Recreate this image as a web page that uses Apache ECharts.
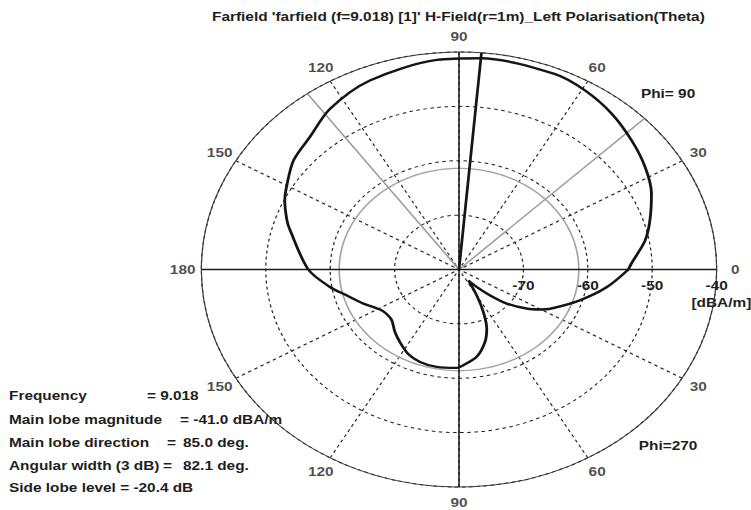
<!DOCTYPE html>
<html><head><meta charset="utf-8">
<script src="https://cdn.jsdelivr.net/npm/echarts@6/dist/echarts.min.js"></script>
<style>
html,body{margin:0;padding:0;background:#fff;overflow:hidden;}
#chart{width:634px;height:510px;transform:scaleX(1.1845);transform-origin:0 0;}
</style></head><body><div id="chart"></div>
<script>
// ---- values ----
const frequency = '9.018';
const mainLobeMagnitude = -41.0;   // dBA/m
const mainLobeDirection = 85.0;    // deg
const angularWidth3dB = 82.1;      // deg
const sideLobeLevel = -20.4;       // dB

const patternAngle = [0, 2.4, 10.5, 17, 25.1, 33.1, 41.5, 50.4, 59.3, 67.6, 85, 95.1, 111.7, 124.1, 133.6, 142, 150.4, 154.8, 161.3, 164.6, 180, 189.1, 195.2, 199.6, 202.9, 211, 215.8, 221.8, 229.1, 235.5, 242.9, 250.4, 259.1, 268.9, 272.2, 279.7, 286.9, 291.6, 295.8, 300, 306, 310.5, 315.4, 319.8, 325.6, 329.8, 333, 343.2, 352, 360];
const patternDb = [-53.7, -53.2, -50.6, -49.0, -47.0, -45.5, -44.2, -42.8, -41.7, -41.1, -41.0, -41.3, -42.6, -44.3, -46.4, -47.4, -49.2, -50.1, -51.8, -52.8, -56.6, -59.7, -61.9, -63.1, -63.9, -65.7, -66.1, -66.0, -64.8, -63.8, -62.6, -61.95, -61.75, -61.9, -62.4, -63.7, -66.1, -68.3, -71.3, -74.5, -77.5, -75.8, -73.2, -70.3, -67.3, -65.4, -64.1, -60.4, -56.8, -53.7];

const angleTicks = [0, 30, 60, 90, 120, 150, 180, 210, 240, 270, 300, 330];
const angleTickLabels = ['0', '30', '60', '90', '120', '150', '180', '150', '120', '90', '60', '30'];
const axisAngles = [0, 90, 180, 270];
const radiusMin = -80, radiusMax = -40, radiusStep = 10;

// ---- derived marks ----
const FONT = '"Liberation Sans", Arial, sans-serif';
const patternData = patternAngle.map((a, i) => [patternDb[i], a]);
const ringLevel = mainLobeMagnitude + sideLobeLevel;
const ringData = [];
for (let a = 0; a <= 360; a += 2) ringData.push([ringLevel, a]);
const w1 = mainLobeDirection - angularWidth3dB / 2;
const w2 = mainLobeDirection + angularWidth3dB / 2;
const labelR = -37.1;

const chart = echarts.init(document.getElementById('chart'), null, {renderer: 'svg'});
const txt = (x, y, text, align, size) => ({
  type: 'text', x: x, y: y, silent: true,
  style: {text: text, fill: '#1e1e1e', font: 'bold ' + (size || 13) + 'px ' + FONT,
          textAlign: align || 'left', textVerticalAlign: 'middle'}
});
const infoY = [395, 419, 442, 465, 487];

const radial = (a, color, width, z) => ({
  type: 'line', coordinateSystem: 'polar', clip: false, silent: true, symbol: 'none',
  data: [[radiusMin, a], [radiusMax, a]], lineStyle: {color: color, width: width}, z: z, zlevel: 0
});

chart.setOption({
  animation: false,
  backgroundColor: '#ffffff',
  polar: {center: [387.5, 269.5], radius: 217.5},
  angleAxis: {
    type: 'value', min: 0, max: 360, interval: 30, startAngle: 0, clockwise: false, z: 0,
    axisLine: {show: true, lineStyle: {color: '#3c3c3c', width: 1}},
    axisTick: {show: false}, axisLabel: {show: false},
    splitLine: {show: true, lineStyle: {color: '#1e1e1e', width: 1, type: [3, 3]}}
  },
  radiusAxis: {
    type: 'value', min: radiusMin, max: radiusMax, interval: radiusStep, z: 0,
    axisLine: {show: false}, axisTick: {show: false},
    axisLabel: {show: true, margin: -16, verticalAlign: 'middle', color: '#1e1e1e',
      fontSize: 13, fontWeight: 'bold', fontFamily: FONT,
      formatter: v => (v === radiusMin ? '' : String(v))},
    splitLine: {show: true, lineStyle: {color: '#1e1e1e', width: 1, type: [3, 3]}}
  },
  series: [
    {type: 'line', coordinateSystem: 'polar', clip: false, data: ringData, symbol: 'none', silent: true,
     lineStyle: {color: '#a3a3a3', width: 1.4}, z: 3},
    radial(w1, '#9a9a9a', 1.4, 3),
    radial(w2, '#9a9a9a', 1.4, 3),
    ...axisAngles.map(a => radial(a, '#1a1a1a', 1.3, 8)),
    radial(mainLobeDirection, '#151515', 2.3, 9),
    {type: 'line', coordinateSystem: 'polar', clip: false, data: patternData, symbol: 'none', silent: true, smooth: 0.3,
     lineStyle: {color: '#151515', width: 2.4}, z: 10},
    {type: 'scatter', coordinateSystem: 'polar', clip: false, silent: true, symbolSize: 0,
     data: angleTicks.map(a => [labelR, a]),
     label: {show: true, position: 'inside', color: '#1e1e1e', fontSize: 13, fontWeight: 'bold', fontFamily: FONT,
       formatter: p => angleTickLabels[p.dataIndex]}, z: 11}
  ],
  graphic: [
    txt(387, 16, "Farfield 'farfield (f=" + frequency + ") [1]' H-Field(r=1m)_Left Polarisation(Theta)", 'center'),
    txt(564, 93, 'Phi= 90', 'center'),
    txt(564, 445, 'Phi=270', 'center'),
    txt(609, 302, '[dBA/m]', 'center'),
    txt(7.6, infoY[0], 'Frequency'),
    txt(124, infoY[0], '= ' + frequency),
    txt(7.6, infoY[1], 'Main lobe magnitude'),
    txt(152, infoY[1], '= ' + mainLobeMagnitude.toFixed(1) + ' dBA/m'),
    txt(7.6, infoY[2], 'Main lobe direction'),
    txt(141, infoY[2], '='),
    txt(154.5, infoY[2], mainLobeDirection.toFixed(1) + ' deg.'),
    txt(7.6, infoY[3], 'Angular width (3 dB)'),
    txt(137.6, infoY[3], '='),
    txt(154.5, infoY[3], angularWidth3dB.toFixed(1) + ' deg.'),
    txt(7.6, infoY[4], 'Side lobe level = ' + sideLobeLevel.toFixed(1) + ' dB')
  ]
});
</script></body></html>
